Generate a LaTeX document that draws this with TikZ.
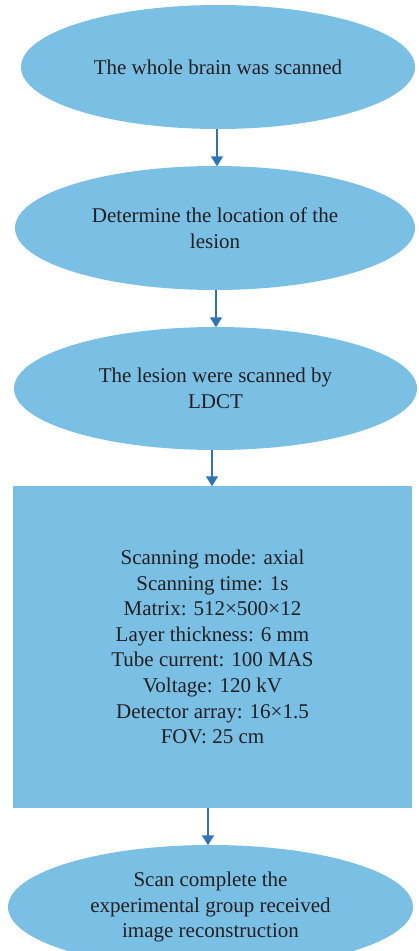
\documentclass[tikz,border=0pt]{standalone}
\usepackage{fontspec}
\setmainfont{Liberation Serif}
\usetikzlibrary{shapes.geometric,arrows.meta}
\definecolor{fillblue}{RGB}{122,192,228}
\definecolor{arrowblue}{RGB}{46,117,182}
\definecolor{txt}{RGB}{35,31,32}
\begin{document}
\begin{tikzpicture}[x=1pt,y=-1pt,
  ell/.style={ellipse,fill=fillblue,draw=none,inner sep=0pt,align=center,text=txt,
    font=\fontsize{21}{25.6}\selectfont},
  infobox/.style={rectangle,fill=fillblue,draw=none,inner sep=0pt,align=center,text=txt,
    font=\fontsize{21}{25.6}\selectfont},
  flow/.style={draw=arrowblue,line width=1.5pt,-{Triangle[length=10pt,width=12pt]},shorten >=-0.5pt}]
\useasboundingbox (0,0) rectangle (418,951);
\clip (0,0) rectangle (418,951);
\node[ell,minimum width=394pt,minimum height=124pt] (e1) at (218,67) {The whole brain was scanned};
\node[ell,minimum width=400pt,minimum height=124pt] (e2) at (215,228) {Determine the location of the\\lesion};
\node[ell,minimum width=403pt,minimum height=123pt] (e3) at (215.5,388.5) {The lesion were scanned by\\LDCT};
\node[infobox,minimum width=399pt,minimum height=322pt] (b4) at (212.5,647) {Scanning mode: axial\\Scanning time: 1s\\Matrix: 512×500×12\\Layer thickness: 6 mm\\Tube current: 100 MAS\\Voltage: 120 kV\\Detector array: 16×1.5\\FOV: 25 cm};
\node[ell,minimum width=405pt,minimum height=124pt] (e5) at (210.5,907) {Scan complete the\\experimental group received\\image reconstruction};
\draw[flow] ([xshift=-1pt]e1.south) -- ([xshift=-1pt]e1.south |- e2.north);
\draw[flow] ([xshift=1pt]e2.south) -- ([xshift=1pt]e2.south |- e3.north);
\draw[flow] ([xshift=-3.5pt]e3.south) -- ([xshift=-3.5pt]e3.south |- b4.north);
\draw[flow] ([xshift=-4.5pt]b4.south) -- ([xshift=-4.5pt]b4.south |- e5.north);
\end{tikzpicture}
\end{document}
